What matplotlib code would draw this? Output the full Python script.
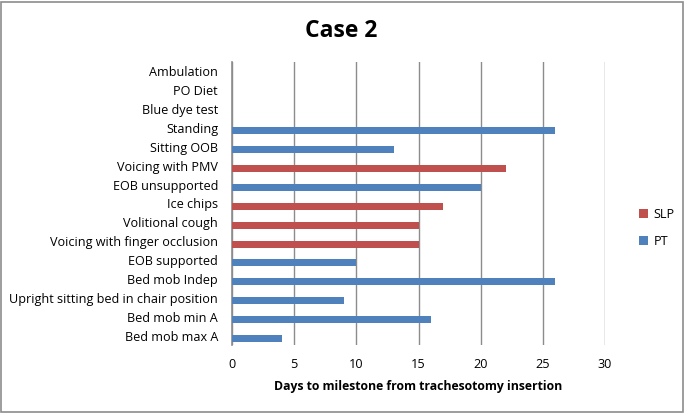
import matplotlib
matplotlib.use("Agg")
import matplotlib.pyplot as plt
from matplotlib.patches import Rectangle
import numpy as np

plt.rcParams["font.family"] = ["Open Sans", "DejaVu Sans"]

# categories, bottom to top
milestones = [
    "Bed mob max A", "Bed mob min A", "Upright sitting bed in chair position",
    "Bed mob Indep", "EOB supported", "Voicing with finger occlusion",
    "Volitional cough", "Ice chips", "EOB unsupported", "Voicing with PMV",
    "Sitting OOB", "Standing", "Blue dye test", "PO Diet", "Ambulation",
]
pt_days = [4, 16, 9, 26, 10, 0, 0, 0, 20, 0, 13, 26, 0, 0, 0]
slp_days = [0, 0, 0, 0, 0, 15, 15, 17, 0, 22, 0, 0, 0, 0, 0]
x_ticks = [0, 5, 10, 15, 20, 25, 30]

BLUE = "#4f81bd"
RED = "#c0504d"

fig = plt.figure(figsize=(6.85, 4.13), dpi=100)
ax = fig.add_axes([232 / 685, 1 - 345 / 413, (605 - 232) / 685, (345 - 62) / 413])

y = np.arange(len(milestones))
off = -0.15
ax.barh(y + off, slp_days, height=0.37, color=RED, label="SLP", zorder=3)
ax.barh(y + off, pt_days, height=0.37, color=BLUE, label="PT", zorder=3)

ax.set_xlim(0, 30)
ax.set_ylim(-0.5, len(milestones) - 0.5)
ax.set_xticks(x_ticks)
ax.set_yticks(y)
ax.set_yticklabels(milestones, fontsize=9.1)
ax.tick_params(axis="x", labelsize=9.1, length=0, pad=9)
ax.tick_params(axis="y", length=0, pad=10)
ax.grid(axis="x", color="#8c8c8c", linewidth=1, zorder=0)
for s in ["top", "right", "bottom"]:
    ax.spines[s].set_visible(False)
ax.spines["left"].set_color("#8c8c8c")
ax.spines["left"].set_linewidth(1.2)

ax.set_xlabel("Days to milestone from trachesotomy insertion", fontsize=8.8,
              fontweight="bold", labelpad=7)
fig.text(341 / 685, 1 - 31 / 413, "Case 2", fontsize=16.5, fontweight="bold",
         ha="center", va="center")

leg = fig.legend(loc="center left", bbox_to_anchor=(628 / 685, 1 - 228 / 413),
                 frameon=False, fontsize=9.1, handlelength=0.7, handleheight=0.7,
                 labelspacing=1.1, handletextpad=0.4)

fig.patches.append(Rectangle((0.002, 0.003), 0.995, 0.993, transform=fig.transFigure,
                             fill=False, edgecolor="#8c8c8c", linewidth=1.2))

fig.savefig("out.png", dpi=100)
